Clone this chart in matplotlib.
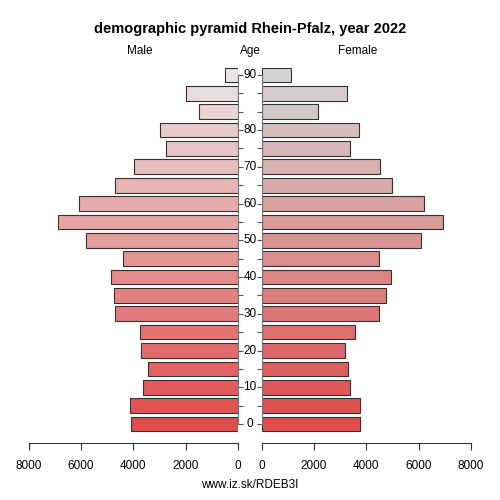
import matplotlib.pyplot as plt
import matplotlib.transforms as mtransforms
import numpy as np

plt.rcParams['font.family'] = ['Liberation Sans', 'DejaVu Sans']

# age groups, bottom to top (20 bars)
age_index = list(range(20))
age_tick_pos = [0, 2, 4, 6, 8, 10, 12, 14, 16, 19]
age_tick_labels = ['0', '10', '20', '30', '40', '50', '60', '70', '80', '90']

male = [4080, 4120, 3620, 3430, 3700, 3730, 4690, 4730, 4840, 4400,
        5800, 6870, 6080, 4690, 3960, 2740, 2980, 1480, 1980, 490]
female = [3770, 3750, 3360, 3310, 3180, 3560, 4500, 4760, 4930, 4500,
          6080, 6940, 6220, 4990, 4520, 3360, 3730, 2170, 3250, 1110]

# colour gradient from red (young) to grey (old)
t = np.linspace(0, 1, len(age_index))
red = np.array([224, 75, 75]) / 255
male_top = np.array([234, 228, 228]) / 255
female_top = np.array([212, 212, 212]) / 255
male_colors = [tuple(red + (male_top - red) * v) for v in t]
female_colors = [tuple(red + (female_top - red) * v) for v in t]

fig = plt.figure(figsize=(5, 5), dpi=100)
ax_l = fig.add_axes([0.0574, 0.114, 0.4186, 0.756])
ax_r = fig.add_axes([0.5234, 0.114, 0.4186, 0.756])

ylim = (-1.034, 19.54)
ax_l.barh(age_index, male, height=0.8, color=male_colors, edgecolor='#333333', linewidth=0.8)
ax_r.barh(age_index, female, height=0.8, color=female_colors, edgecolor='#333333', linewidth=0.8)

ax_l.set_xlim(8000, 0)
ax_r.set_xlim(0, 8000)
for ax in (ax_l, ax_r):
    ax.set_ylim(*ylim)
    ax.set_xticks([0, 2000, 4000, 6000, 8000])
    ax.tick_params(axis='x', length=5, width=0.8, color='#333333', labelsize=8.5, pad=7)
    ax.spines['top'].set_visible(False)
    ax.spines['bottom'].set_color('#333333')
    ax.spines['bottom'].set_linewidth(0.8)
    ax.set_yticks(age_index)
    ax.set_yticklabels([])
    ax.tick_params(axis='y', length=3.5, width=0.8, color='#555555')

ax_l.spines['left'].set_visible(False)
ax_l.spines['right'].set_color('#777777')
ax_l.spines['right'].set_bounds(0, 19)
ax_l.yaxis.tick_right()
ax_l.set_yticklabels([])

ax_r.spines['right'].set_visible(False)
ax_r.spines['left'].set_color('#777777')
ax_r.spines['left'].set_bounds(0, 19)

trans = mtransforms.blended_transform_factory(fig.transFigure, ax_l.transData)
for pos, lab in zip(age_tick_pos, age_tick_labels):
    ax_l.text(0.5, pos, lab, transform=trans, ha='center', va='center', fontsize=8.5, clip_on=False)

fig.text(0.5, 0.942, 'demographic pyramid Rhein-Pfalz, year 2022', ha='center', va='center',
         fontsize=10.5, fontweight='bold')
fig.text(0.28, 0.898, 'Male', ha='center', va='center', fontsize=8.5)
fig.text(0.5, 0.898, 'Age', ha='center', va='center', fontsize=8.5)
fig.text(0.716, 0.898, 'Female', ha='center', va='center', fontsize=8.5)
fig.text(0.5, 0.03, 'www.iz.sk/RDEB3I', ha='center', va='center', fontsize=8.5)

plt.savefig('out.png', dpi=100)
